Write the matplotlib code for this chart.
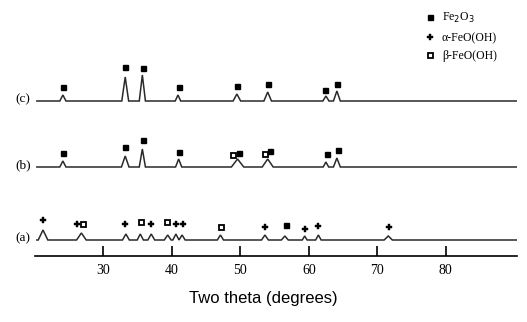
import numpy as np
import matplotlib
matplotlib.use("Agg")
import matplotlib.pyplot as plt
from matplotlib.lines import Line2D

# ---- data ----
xticks = [30, 40, 50, 60, 70, 80]
sample_labels = ["(c)", "(b)", "(a)"]

# peaks: position (deg), height (a.u.), half-width (deg)
c_pos = [24.1, 33.2, 35.7, 40.9, 49.5, 54.0, 62.5, 64.1]
c_hgt = [6, 24, 26, 6, 7, 9, 5, 10]
c_wid = [0.45, 0.5, 0.45, 0.4, 0.55, 0.55, 0.45, 0.5]

b_pos = [24.1, 33.2, 35.7, 41.0, 49.6, 54.0, 62.5, 64.1]
b_hgt = [6, 11, 18, 8, 8, 8, 5, 9]
b_wid = [0.45, 0.55, 0.45, 0.45, 0.9, 0.8, 0.4, 0.5]

a_pos = [21.2, 26.8, 33.3, 35.4, 37.0, 39.4, 40.6, 41.5, 47.1, 53.6, 56.5, 59.4, 61.4, 71.6]
a_hgt = [10, 7, 6, 6, 6, 5, 6, 5, 5, 5, 4, 4, 5, 4]
a_wid = [0.7, 0.7, 0.5, 0.45, 0.5, 0.5, 0.45, 0.45, 0.45, 0.5, 0.5, 0.35, 0.4, 0.6]

# markers: (phase, position, height above baseline)
c_marks = [("F", 24.1, 14), ("F", 33.2, 34), ("F", 35.8, 33), ("F", 41.0, 14),
           ("F", 49.5, 15), ("F", 54.0, 17), ("F", 62.4, 11), ("F", 64.1, 17)]
b_marks = [("F", 24.1, 14), ("F", 33.2, 20), ("F", 35.8, 27), ("F", 41.1, 15),
           ("B", 48.9, 12), ("F", 49.8, 14), ("B", 53.6, 13), ("F", 54.3, 16),
           ("F", 62.6, 13), ("F", 64.2, 17)]
a_marks = [("A", 21.2, 20), ("A", 26.2, 16), ("B", 27.1, 16), ("A", 33.2, 16),
           ("B", 35.5, 18), ("A", 37.0, 16), ("B", 39.3, 18), ("A", 40.6, 16),
           ("A", 41.6, 16), ("B", 47.2, 13), ("A", 53.6, 13), ("F", 56.6, 15),
           ("A", 59.5, 11), ("A", 61.4, 14), ("A", 71.7, 13)]

legend_labels = ["Fe$_2$O$_3$", "\u03b1-FeO(OH)", "\u03b2-FeO(OH)"]

# ---- layout ----
offsets = [155, 89, 16]
xmin, xmax = 20.0, 90.4
W, H = 527, 322
fig = plt.figure(figsize=(W / 100, H / 100), dpi=100)
ax_left = 34.8 / W
ax_right = (34.8 + (xmax - xmin) * 6.85) / W
axis_y = 256
ax = fig.add_axes([ax_left, 1 - axis_y / H, ax_right - ax_left, axis_y / H])
ax.set_xlim(xmin, xmax)
ax.set_ylim(0, axis_y)

line_color = "#2a2a2a"

def profile(pos, hgt, wid):
    xs = [xmin + 0.3]
    ys = [0.0]
    for p, h, w in zip(pos, hgt, wid):
        xs += [p - w, p, p + w]
        ys += [0.0, h, 0.0]
    xs.append(xmax)
    ys.append(0.0)
    return np.array(xs), np.array(ys)

styles = {
    "F": dict(marker="s", markersize=3.6, markerfacecolor="black", markeredgecolor="black"),
    "A": dict(marker="P", markersize=4.3, markerfacecolor="black", markeredgecolor="black", markeredgewidth=0.3),
    "B": dict(marker="s", markersize=3.6, markerfacecolor="white", markeredgecolor="black", markeredgewidth=1.3),
}

series = [(c_pos, c_hgt, c_wid, c_marks), (b_pos, b_hgt, b_wid, b_marks),
          (a_pos, a_hgt, a_wid, a_marks)]
for (pos, hgt, wid, marks), off, lab in zip(series, offsets, sample_labels):
    xs, ys = profile(pos, hgt, wid)
    ax.plot(xs, ys + off, color=line_color, lw=1.1, solid_joinstyle="miter")
    for ph, mx, my in marks:
        ax.plot([mx], [off + my], linestyle="none", **styles[ph])
    ax.text(xmin - 0.6, off + 2, lab, ha="right", va="center",
            fontsize=9.5, family="Liberation Serif")

for s in ["left", "right", "top"]:
    ax.spines[s].set_visible(False)
ax.spines["bottom"].set_linewidth(1.2)
ax.set_yticks([])
ax.set_xticks(xticks)
ax.set_xticklabels([str(t) for t in xticks], family="Liberation Serif", fontsize=10)
ax.tick_params(axis="x", direction="in", length=7, width=1.2, pad=6)
ax.patch.set_alpha(0)

fig.text(0.5, 1 - 299 / H, "Two theta (degrees)", ha="center", va="center",
         fontsize=12, family="Liberation Sans")

handles = [Line2D([], [], linestyle="none", **styles[k]) for k in ["F", "A", "B"]]
leg = fig.legend(handles, legend_labels, loc="upper left",
                 bbox_to_anchor=(416 / W, 1 - 3 / H), frameon=False,
                 prop={"family": "Liberation Serif", "size": 8.5},
                 handlelength=1.0, handletextpad=0.5, labelspacing=0.55,
                 borderpad=0.2)

fig.savefig("out.png", dpi=100)
